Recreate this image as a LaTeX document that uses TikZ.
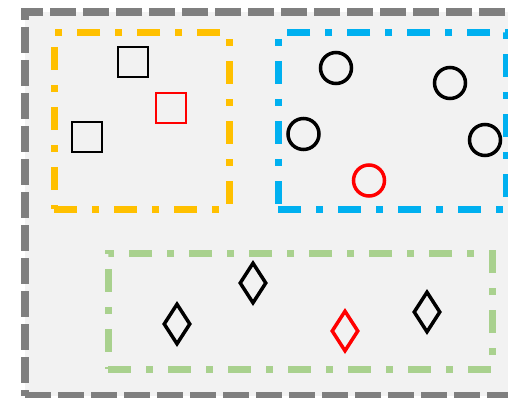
\documentclass[tikz,border=0pt]{standalone}
\usetikzlibrary{shapes.geometric, positioning}
\definecolor{gridgray}{HTML}{7F7F7F}
\definecolor{panelgray}{HTML}{F2F2F2}
\definecolor{boxyellow}{HTML}{FFC000}
\definecolor{boxblue}{HTML}{00B0F0}
\definecolor{boxgreen}{HTML}{A9D18E}
\begin{document}
\begin{tikzpicture}[x=1pt, y=-1pt,
    outerbox/.style={rectangle, draw=gridgray, fill=panelgray, line width=8pt,
                     dash pattern=on 26pt off 7pt, inner sep=0pt},
    group/.style={rectangle, line width=7pt, inner sep=0pt,
                  dash pattern=on 23pt off 15pt on 7pt off 15pt},
    sq/.style={rectangle, draw=black, line width=2pt, minimum size=30pt, inner sep=0pt},
    ring/.style={circle, draw=black, line width=3.5pt, minimum size=31pt, inner sep=0pt},
    gem/.style={diamond, draw=black, line width=3.5pt, minimum width=27pt,
                minimum height=41pt, inner sep=0pt}]
\useasboundingbox (0,0) rectangle (508,398);

\node[outerbox, minimum width=510pt, minimum height=384pt] (panel) at (280,204) {};

% three clusters
\node[group, draw=boxyellow, minimum width=175pt, minimum height=176pt] (squares) at (141.5,121) {};
\node[group, draw=boxblue, minimum width=228pt, minimum height=176pt] (circles) at (392,121) {};
\node[group, draw=boxgreen, minimum width=384pt, minimum height=116pt] (diamonds) at (300,311) {};

\node[sq] (sqa) at (133,62) {};
\node[sq, draw=red] (sqred) at (171,108) {};
\node[sq] (sqb) at (87,137) {};

\node[ring] (ringa) at (336,68) {};
\node[ring] (ringb) at (450,83) {};
\node[ring] (ringc) at (303.5,134) {};
\node[ring] (ringd) at (485,140) {};
\node[ring, draw=red] (ringred) at (369,180.5) {};

\node[gem] (gema) at (177,324) {};
\node[gem] (gemb) at (253,283) {};
\node[gem, draw=red] (gemred) at (345,331) {};
\node[gem] (gemc) at (427,312) {};
\end{tikzpicture}
\end{document}
